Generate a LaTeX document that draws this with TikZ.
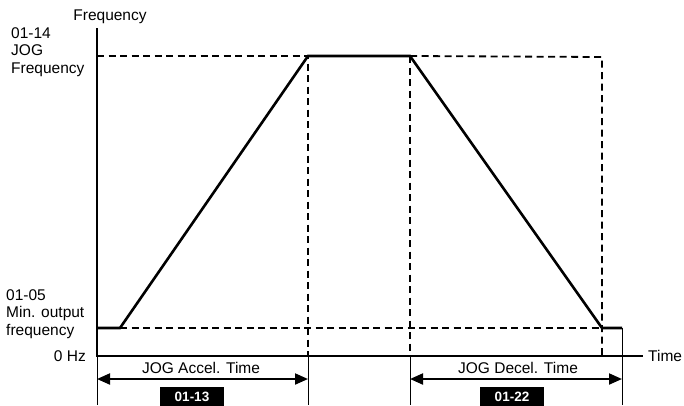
\documentclass[tikz,border=0pt]{standalone}
\usepackage{fontspec}
\setmainfont{Liberation Sans}
\usetikzlibrary{arrows.meta}

\begin{document}
\begin{tikzpicture}[x=1pt, y=-1pt,
    lbl/.style={font=\fontsize{15.5}{17.5}\selectfont, inner sep=0pt, align=left},
    curve/.style={line width=2.6pt, line join=miter},
    guide/.style={line width=1.8pt, dash pattern=on 7pt off 4.5pt},
    ext/.style={line width=0.8pt},
    dim/.style={{Triangle[length=13pt,width=11pt]}-{Triangle[length=13pt,width=11pt]}, line width=2pt},
    code/.style={fill=black, text=white, font=\bfseries\fontsize{13.5}{14}\selectfont,
      minimum width=64pt, minimum height=19pt, inner sep=0pt, anchor=north}
  ]
    \clip (0,0) rectangle (684,405);
    \useasboundingbox (0,0) rectangle (684,405);

    % axes and key points
    \coordinate (o) at (97,356);
    \coordinate (ytop) at (97,28);
    \coordinate (xend) at (643,356);
    \coordinate (m0) at (97,328);
    \coordinate (m1) at (120,328);
    \coordinate (p1) at (308,56);
    \coordinate (p2) at (410,56);
    \coordinate (p3) at (602,328);
    \coordinate (p4) at (622,328);
    \coordinate (f0) at (97,56);
    \coordinate (f1) at (602,57);
    \coordinate (b1) at (308,356);
    \coordinate (b2) at (410,356);
    \coordinate (b3) at (602,356);

    % guide lines
    \draw[guide] (f0) -- (p1) -- (b1);
    \draw[guide] (p2) -- (f1) -- (b3);
    \draw[guide] (p2) -- (b2);
    \draw[guide] (m1) -- (p3);

    % extension lines
    \coordinate (e0) at (97,405);
    \coordinate (e1) at (308,405);
    \coordinate (e2) at (410,405);
    \coordinate (e3) at (622,405);
    \draw[ext] (o) -- (e0);
    \draw[ext] (b1) -- (e1);
    \draw[ext] (b2) -- (e2);
    \draw[ext] (p4) -- (e3);

    % axes
    \draw[curve] (ytop) -- (o) -- (xend);

    % output curve
    \draw[curve] (m0) -- (m1) -- (p1) -- (p2) -- (p3) -- (p4);

    % axis labels
    \node[lbl, anchor=base] (yname) at (110,20) {Frequency};
    \node[lbl, anchor=base west] (xname) at (648,361) {Time};
    \node[lbl, anchor=north west] (jogf) at (11,27) {01-14\\JOG\\Frequency};
    \node[lbl, anchor=north west] (minf) at (6,289) {01-05\\Min. output\\frequency};
    \node[lbl, anchor=base east] (zero) at (86,361) {0 Hz};

    % time spans
    \coordinate (a0) at (97,379);
    \coordinate (a1) at (308,379);
    \coordinate (d0) at (410,379);
    \coordinate (d1) at (622,379);
    \draw[dim] (a0) -- (a1);
    \draw[dim] (d0) -- (d1);
    \node[lbl, anchor=base] (acc) at (201,373) {JOG Accel. Time};
    \node[lbl, anchor=base] (dec) at (518,373) {JOG Decel. Time};
    \node[code] (acccode) at (192,387) {01-13};
    \node[code] (deccode) at (512,387) {01-22};
  \end{tikzpicture}
\end{document}
